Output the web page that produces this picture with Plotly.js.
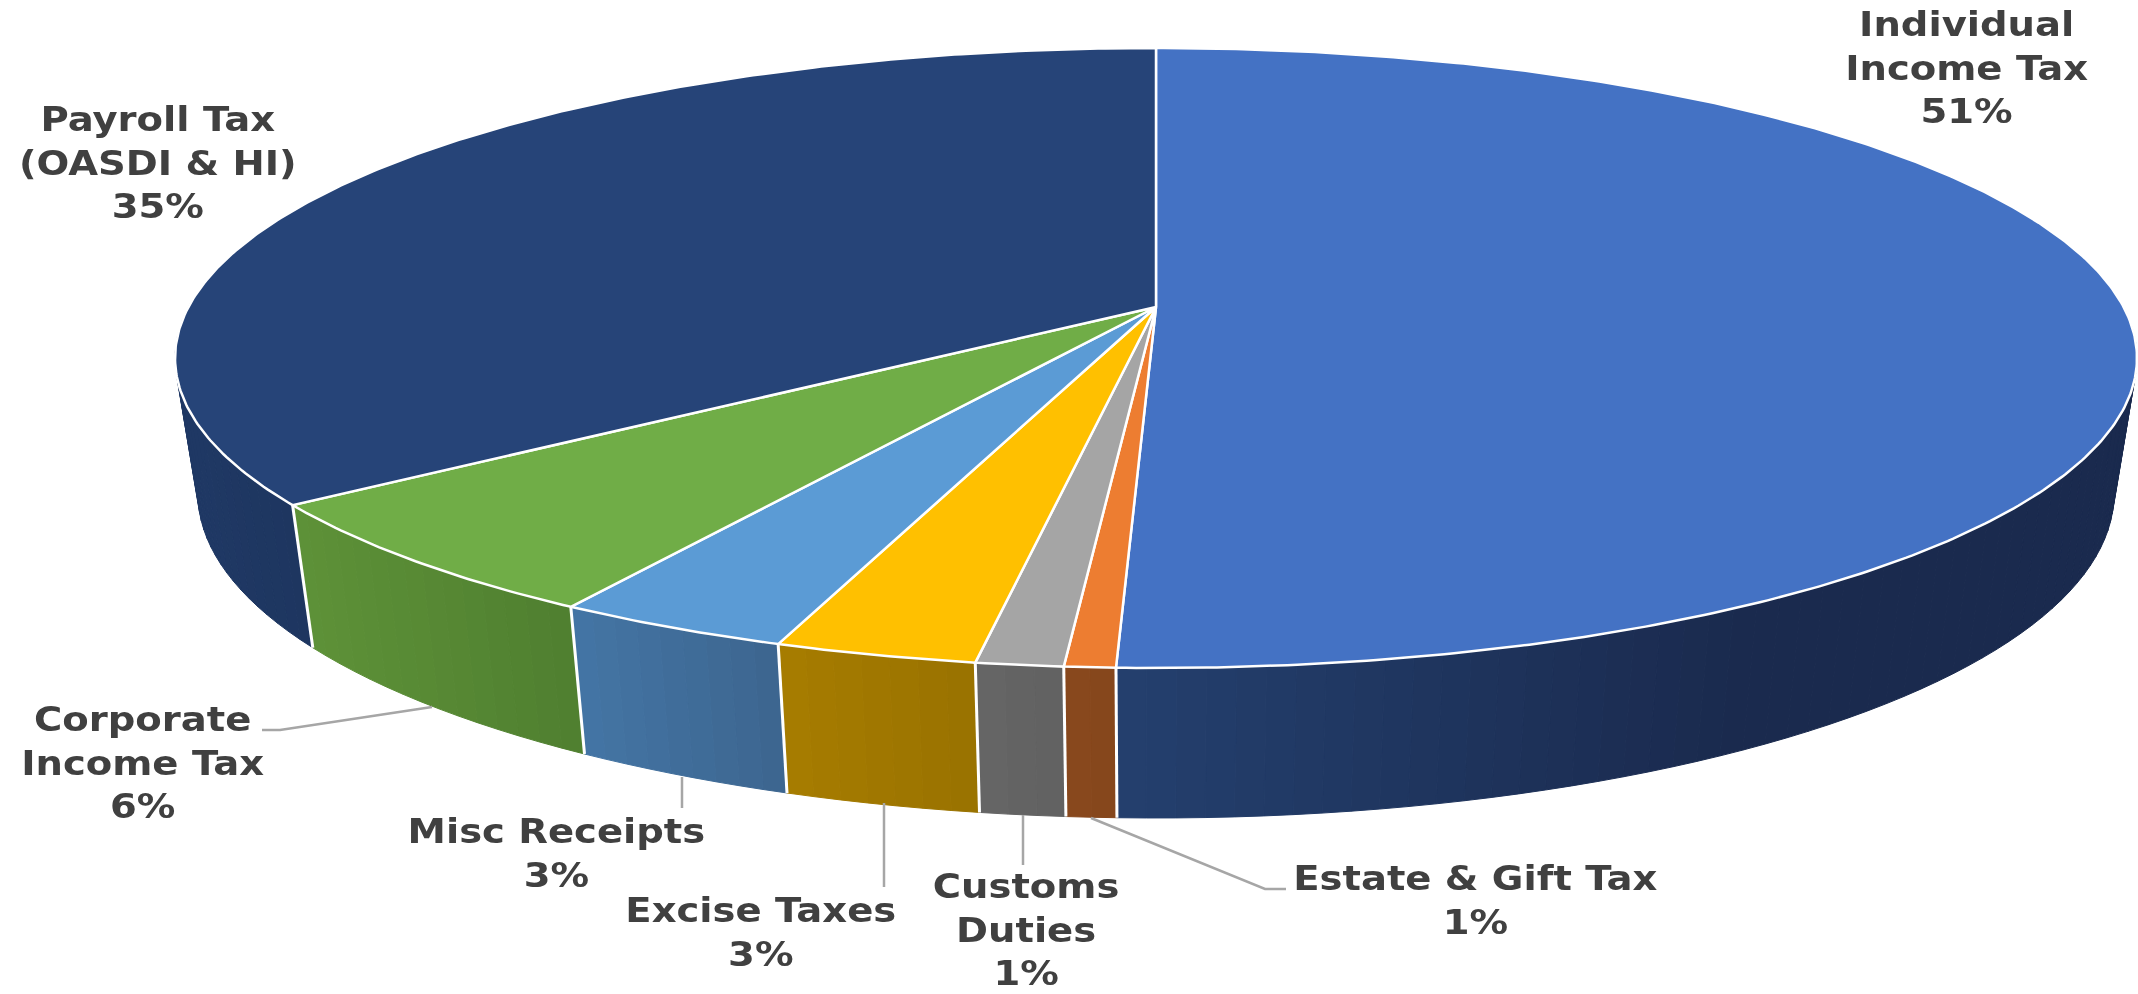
<!DOCTYPE html>
<html>
<head>
<meta charset="utf-8">
<script src="https://cdn.plot.ly/plotly-3.0.1.min.js"></script>
<style>
html,body{margin:0;padding:0;background:#fff}
#chart{width:2138px;height:994px;filter:blur(0.6px)}
#chart .annotation-text{transform-box:fill-box;transform-origin:center;transform:scaleX(1.15)}
</style>
</head>
<body>
<div id="chart"></div>
<script>
// ---- data (share of receipts, clockwise from 12 o'clock)
const categories = ["Individual<br>Income Tax", "Estate & Gift Tax", "Customs<br>Duties", "Excise Taxes", "Misc Receipts", "Corporate<br>Income Tax", "Payroll Tax<br>(OASDI & HI)"];
const shares = [50.55, 0.72, 1.23, 2.85, 3.35, 6.2, 35.1];

// ---- colours
const topColors = ["#4472C4", "#ED7D31", "#A5A5A5", "#FFC000", "#5B9BD5", "#70AD47", "#264478"];
const wallLeft  = ["#24406F", "#8A491E", "#666666", "#A87D00", "#4476A6", "#5E9238", "#1F3864"];
const wallRight = ["#1A2A4E", "#86471C", "#626262", "#9A7300", "#3D6690", "#508030", "#1E3660"];

// ---- label placement (centre of each text block, axis units = pixels)
const labelX = [1967, 1475, 1026, 761, 556, 143, 158];
const labelY = [68, 900, 930, 932, 853, 763, 163];
const leaderPaths = [
  "M262,730 L280,730 L432,707",
  "M682,777 L682,808",
  "M884,803 L884,887",
  "M1023,815 L1023,865",
  "M1091,818 L1265,889 L1286,889"
];

// ---- projection of the tilted disc
const cx = 1156, apexY = 307;
const persp = 0.1645, depthB = 301.6, widthA = 967.6;
const topCy = 358, topRx = 981, topRy = 310;
const botCy = 494, botRx = 958, botRy = 324;

function topPoint(deg) {
  const r = deg * Math.PI / 180, X = Math.sin(r), Y = Math.cos(r), w = 1 + persp * Y;
  return [cx + widthA * X / w, apexY - depthB * Y / w];
}
function botPoint(deg) {
  const p = topPoint(deg);
  const u = (p[0] - cx) / topRx, v = (p[1] - topCy) / topRy;
  return [cx + u * botRx, botCy + v * botRy];
}
function hex(c) { return [1, 3, 5].map(i => parseInt(c.substr(i, 2), 16)); }
function mix(a, b, t) {
  const A = hex(a), B = hex(b);
  return "rgb(" + A.map((v, i) => Math.round(v + (B[i] - v) * t)).join(",") + ")";
}

const total = shares.reduce((a, b) => a + b, 0);
let acc = 0;
const spans = shares.map(s => { const a = acc; acc += s; return [a / total * 360, acc / total * 360]; });

const traces = [];
// side wall, in thin strips so that the shading runs along the rim
spans.forEach((sp, i) => {
  const a0 = Math.max(sp[0], 88), a1 = Math.min(sp[1], 272);
  if (a1 <= a0) return;
  const n = Math.max(2, Math.ceil((a1 - a0) / 1.5));
  const xa = topPoint(a1)[0], xb = topPoint(a0)[0];
  for (let k = 0; k < n; k++) {
    const d0 = a0 + (a1 - a0) * k / n, d1 = a0 + (a1 - a0) * (k + 1) / n;
    const p0 = topPoint(d0), p1 = topPoint(d1), q0 = botPoint(d0), q1 = botPoint(d1);
    const t = Math.max(0, Math.min(1, (p0[0] - Math.min(xa, xb)) / Math.min(640, Math.abs(xb - xa) || 1)));
    const col = mix(wallLeft[i], wallRight[i], t);
    traces.push({ type: "scatter", mode: "lines", x: [p0[0], p1[0], q1[0], q0[0], p0[0]], y: [p0[1], p1[1], q1[1], q0[1], p0[1]],
      fill: "toself", fillcolor: col, line: { color: col, width: 1 }, hoverinfo: "skip" });
  }
});
// white dividers on the wall
spans.forEach(sp => {
  const d = sp[1];
  if (d < 88 || d > 272) return;
  const p = topPoint(d), q = botPoint(d);
  traces.push({ type: "scatter", mode: "lines", x: [p[0], q[0]], y: [p[1], q[1]], line: { color: "#FFFFFF", width: 3 }, hoverinfo: "skip" });
});
// top face
spans.forEach((sp, i) => {
  const xs = [cx], ys = [apexY];
  const n = Math.max(3, Math.ceil((sp[1] - sp[0]) / 0.5));
  for (let k = 0; k <= n; k++) {
    const p = topPoint(sp[0] + (sp[1] - sp[0]) * k / n);
    xs.push(p[0]); ys.push(p[1]);
  }
  xs.push(cx); ys.push(apexY);
  traces.push({ type: "scatter", mode: "lines", x: xs, y: ys, fill: "toself", fillcolor: topColors[i],
    line: { color: "#FFFFFF", width: 2.5 }, hoverinfo: "skip" });
});

const annotations = categories.map((c, i) => ({
  x: labelX[i], y: labelY[i], xref: "x", yref: "y", xanchor: "center", yanchor: "middle", align: "center",
  showarrow: false, text: c + "<br>" + Math.round(shares[i]) + "%",
  font: { family: "DejaVu Sans", size: 33.5, color: "#404040", weight: 700 }
}));
const shapes = leaderPaths.map(p => ({ type: "path", path: p, xref: "x", yref: "y", line: { color: "#A6A6A6", width: 2.5 } }));

Plotly.newPlot("chart", traces, {
  width: 2138, height: 994, margin: { l: 0, r: 0, t: 0, b: 0 }, paper_bgcolor: "#FFFFFF", plot_bgcolor: "#FFFFFF",
  showlegend: false, hovermode: false,
  xaxis: { range: [0, 2138], visible: false, fixedrange: true },
  yaxis: { range: [994, 0], visible: false, fixedrange: true },
  annotations: annotations, shapes: shapes
}, { displayModeBar: false, staticPlot: true });
</script>
</body>
</html>
